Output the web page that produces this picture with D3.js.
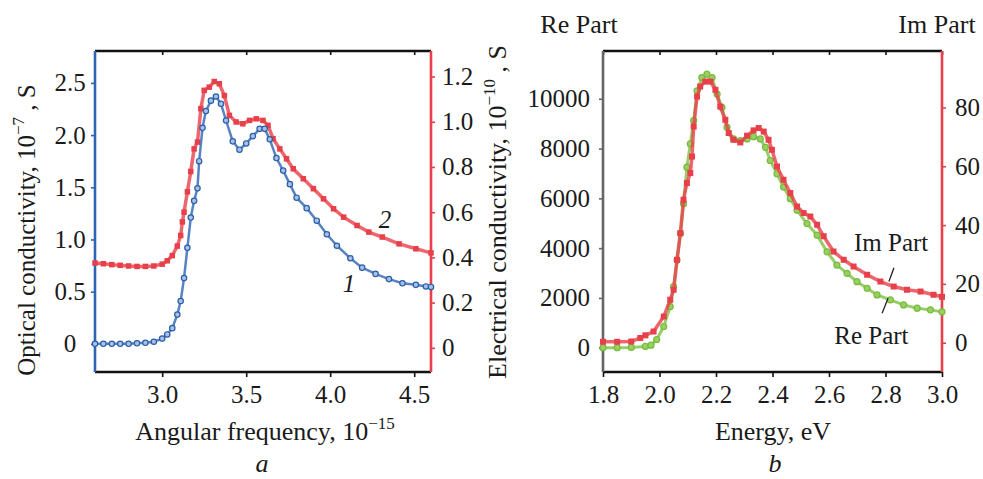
<!DOCTYPE html>
<html>
<head>
<meta charset="utf-8">
<script src="https://cdn.jsdelivr.net/npm/d3@7"></script>
<style>
  body { margin:0; background:#fff; }
  svg text { font-family:"Liberation Serif","Times New Roman",serif; fill:#1a1a1a; }
</style>
</head>
<body>
<div id="canvas"></div>
<script>
// panel a: optical conductivity vs angular frequency
var freq1 = [2.60,2.65,2.70,2.75,2.80,2.85,2.90,2.95,3.00,3.03,3.06,3.09,3.11,3.13,3.15,3.17,3.19,3.21,3.22,3.24,
  3.26,3.29,3.32,3.35,3.38,3.42,3.46,3.50,3.54,3.58,3.61,3.64,3.68,3.72,3.76,3.80,3.86,3.92,3.98,4.04,
  4.12,4.19,4.27,4.35,4.43,4.51,4.57,4.60];
var cond1 = [0,0,0,0,0,0.005,0.01,0.02,0.05,0.09,0.15,0.28,0.41,0.63,0.92,1.21,1.37,1.49,1.75,2.07,
  2.23,2.33,2.37,2.30,2.14,1.94,1.86,1.92,1.99,2.06,2.06,1.96,1.78,1.66,1.53,1.40,1.30,1.18,1.05,0.94,
  0.82,0.73,0.67,0.62,0.58,0.565,0.55,0.545];
var freq2 = [2.60,2.65,2.70,2.75,2.80,2.85,2.90,2.95,3.00,3.03,3.06,3.09,3.11,3.12,3.13,3.15,3.17,3.19,3.21,3.23,
  3.25,3.28,3.31,3.34,3.37,3.40,3.44,3.48,3.52,3.56,3.60,3.63,3.66,3.70,3.74,3.78,3.84,3.90,3.96,4.02,
  4.08,4.16,4.23,4.31,4.41,4.51,4.60];
var cond2 = [0.375,0.372,0.368,0.365,0.362,0.36,0.36,0.362,0.37,0.385,0.408,0.45,0.497,0.557,0.60,0.69,0.78,0.88,0.91,1.058,
  1.139,1.153,1.178,1.168,1.116,1.028,0.999,0.991,1.006,1.013,1.006,0.984,0.925,0.88,0.836,0.792,0.748,0.704,0.659,0.615,
  0.578,0.541,0.512,0.49,0.46,0.438,0.42];
var freqTicks = [3.0,3.5,4.0,4.5];
var optTicks = [0,0.5,1.0,1.5,2.0,2.5];
var opt2Ticks = [0,0.2,0.4,0.6,0.8,1.0,1.2];

// panel b: electrical conductivity vs energy
var energyRe = [1.80,1.85,1.90,1.95,1.97,1.99,2.015,2.038,2.05,2.062,2.074,2.085,2.097,2.109,2.121,2.133,2.15,2.168,2.186,2.204,
  2.221,2.239,2.262,2.286,2.31,2.333,2.357,2.375,2.392,2.416,2.439,2.463,2.487,2.522,2.558,2.593,2.628,2.664,2.699,2.735,
  2.77,2.817,2.864,2.912,2.959,3.0];
var rePart = [0,0,10,50,100,330,852,1652,2452,3520,4588,5788,7252,8188,9120,10320,10852,10988,10852,10188,
  9652,8852,8388,8320,8388,8480,8388,8052,7520,6988,6452,5988,5520,4988,4520,3852,3320,2988,2652,2388,
  2120,1920,1720,1588,1520,1440];
var energyIm = [1.80,1.85,1.90,1.932,1.95,1.979,2.015,2.038,2.05,2.062,2.074,2.085,2.097,2.109,2.115,2.121,2.133,2.144,2.162,2.18,
  2.198,2.215,2.233,2.245,2.262,2.286,2.31,2.333,2.351,2.369,2.386,2.398,2.416,2.439,2.463,2.487,2.51,2.534,2.558,2.581,
  2.616,2.652,2.687,2.735,2.782,2.829,2.876,2.924,2.97,3.0];
var imPart = [0.3,0.3,0.4,1.6,2.5,3.8,8.9,14.6,18.0,28.2,37.3,48.6,54.3,57.7,63.3,73.5,83.7,87.1,88.8,88.8,
  86.0,80.3,75.8,71.3,69.0,68.1,70.4,72.2,73.0,71.8,69.0,65.6,59.9,55.4,50.9,46.3,44.1,42.9,40.1,36.2,
  31.0,28.2,25.9,23.1,20.8,19.1,18.0,17.4,16.3,15.6];
var energyTicks = [1.8,2.0,2.2,2.4,2.6,2.8,3.0];
var reTicks = [0,2000,4000,6000,8000,10000];
var imTicks = [0,20,40,60,80];

var blue = '#2e64b4', red = '#e8404a', green = '#7cc242';

var svg = d3.select('#canvas').append('svg')
  .attr('width', 983).attr('height', 479);

var yTop = 51, yBot = 372;

// scales
var xA = d3.scaleLinear().domain([2.6, 4.6]).range([95, 431]);
var yA1 = d3.scaleLinear().domain([-0.27, 2.806]).range([yBot, yTop]);
var yA2 = d3.scaleLinear().domain([-0.107, 1.313]).range([yBot, yTop]);
var xB = d3.scaleLinear().domain([1.8, 3.0]).range([603, 942]);
var yB1 = d3.scaleLinear().domain([-976, 11920]).range([yBot, yTop]);
var yB2 = d3.scaleLinear().domain([-9.97, 99.2]).range([yBot, yTop]);

function fmt1(d){ return d === 0 ? '0' : d.toFixed(1); }

function styleAxis(g, color){
  g.select('.domain').remove();
  g.selectAll('line').attr('stroke', color).attr('stroke-width', 1.6);
  g.selectAll('text').attr('font-size', 25).attr('fill', '#1a1a1a')
    .style('font-family', '"Liberation Serif","Times New Roman",serif');
}

function minor(lo, hi, step){
  var out = [];
  for (var v = lo; v <= hi + 1e-9; v += step) out.push(+v.toFixed(4));
  return out;
}

function drawFrame(x, yL, yR, o){
  // bottom axis
  var gb = svg.append('g').attr('transform', 'translate(0,' + yBot + ')');
  gb.call(d3.axisBottom(x).tickValues(minor(o.xmin, o.xmax, o.xminor)).tickSize(3).tickFormat(''));
  gb.call(d3.axisBottom(x).tickValues(o.xticks).tickSize(5).tickPadding(8).tickFormat(d3.format('.1f')));
  styleAxis(gb, '#111');
  // top axis
  var gt = svg.append('g').attr('transform', 'translate(0,' + yTop + ')');
  gt.call(d3.axisTop(x).tickValues(o.xticks).tickSize(-4).tickFormat(''));
  styleAxis(gt, '#111');
  // left axis
  var gl = svg.append('g').attr('transform', 'translate(' + x.range()[0] + ',0)');
  gl.call(d3.axisLeft(yL).tickValues(o.lminor).tickSize(2).tickFormat(''));
  gl.call(d3.axisLeft(yL).tickValues(o.lticks).tickSize(4).tickPadding(o.lpad).tickFormat(o.lfmt));
  styleAxis(gl, o.lcolor);
  if (o.lcenter) gl.selectAll('text').attr('text-anchor', 'middle').attr('x', o.lcenter);
  // right axis
  var gr = svg.append('g').attr('transform', 'translate(' + x.range()[1] + ',0)');
  gr.call(d3.axisRight(yR).tickValues(o.rminor).tickSize(2).tickFormat(''));
  gr.call(d3.axisRight(yR).tickValues(o.rticks).tickSize(4).tickPadding(o.rpad).tickFormat(o.rfmt));
  styleAxis(gr, o.rcolor);

  // frame lines
  var x0 = x.range()[0], x1 = x.range()[1];
  svg.append('line').attr('x1', x0).attr('x2', x1).attr('y1', yTop).attr('y2', yTop)
    .attr('stroke', '#111').attr('stroke-width', 2.6);
  svg.append('line').attr('x1', x0).attr('x2', x1).attr('y1', yBot).attr('y2', yBot)
    .attr('stroke', '#111').attr('stroke-width', 2.6);
  svg.append('line').attr('x1', x0).attr('x2', x0).attr('y1', yTop).attr('y2', yBot)
    .attr('stroke', o.lcolor).attr('stroke-width', 2.6);
  svg.append('line').attr('x1', x1).attr('x2', x1).attr('y1', yTop).attr('y2', yBot)
    .attr('stroke', o.rcolor).attr('stroke-width', 2.6);
}

drawFrame(xA, yA1, yA2, {
  xmin: 2.75, xmax: 4.5, xminor: 0.25, xticks: freqTicks,
  lticks: optTicks, lminor: minor(0, 2.75, 0.25), lfmt: fmt1, lpad: 6, lcolor: blue, lcenter: -25,
  rticks: opt2Ticks, rminor: minor(0, 1.3, 0.1), rfmt: fmt1, rpad: 7, rcolor: red
});
drawFrame(xB, yB1, yB2, {
  xmin: 1.8, xmax: 3.0, xminor: 0.1, xticks: energyTicks,
  lticks: reTicks, lminor: minor(0, 11000, 1000), lfmt: d3.format('d'), lpad: 9, lcolor: '#666',
  rticks: imTicks, rminor: minor(0, 90, 10), rfmt: d3.format('d'), rpad: 9, rcolor: red
});

// series drawing helpers
function series(xs, ys, x, y, color, width){
  var pts = xs.map(function(d, i){ return [x(d), y(ys[i])]; });
  svg.append('path').attr('d', d3.line()(pts))
    .attr('fill', 'none').attr('stroke', color).attr('stroke-width', width).attr('opacity', 0.8);
  return pts;
}
function squares(pts, color, s){
  svg.append('g').selectAll('rect').data(pts).enter().append('rect')
    .attr('x', function(d){ return d[0] - s/2; })
    .attr('y', function(d){ return d[1] - s/2; })
    .attr('width', s).attr('height', s).attr('fill', color);
}
function circles(pts, fill, stroke, r){
  svg.append('g').selectAll('circle').data(pts).enter().append('circle')
    .attr('cx', function(d){ return d[0]; })
    .attr('cy', function(d){ return d[1]; })
    .attr('r', r).attr('fill', fill).attr('stroke', stroke).attr('stroke-width', 1.2);
}

// panel a curves
var p2 = series(freq2, cond2, xA, yA2, red, 3.5);
squares(p2, red, 5.5);
var p1 = series(freq1, cond1, xA, yA1, blue, 2.5);
circles(p1, '#a8c0e6', '#2a5ea8', 2.7);

// panel b curves
var pre = series(energyRe, rePart, xB, yB1, green, 3);
circles(pre, '#9ad062', '#76bb3c', 3);
var pim = series(energyIm, imPart, xB, yB2, red, 3.5);
squares(pim, red, 6);

// curve labels
function label(t, x, y, size, italic, anchor){
  return svg.append('text').attr('x', x).attr('y', y).attr('font-size', size)
    .attr('font-style', italic ? 'italic' : 'normal')
    .attr('text-anchor', anchor || 'middle').text(t);
}
label('2', xA(4.326), yA2(0.53), 25, true);
label('1', xA(4.112), yA1(0.5), 25, true);
label('Im Part', xB(2.82), yB2(31.1), 25, false);
label('Re Part', xB(2.75), yB1(150), 25, false);
svg.append('line').attr('x1', xB(2.83)).attr('y1', yB2(25.5)).attr('x2', xB(2.812)).attr('y2', yB2(20.8))
  .attr('stroke', '#222').attr('stroke-width', 1.3);
svg.append('line').attr('x1', xB(2.809)).attr('y1', yB1(1988)).attr('x2', xB(2.788)).attr('y2', yB1(1388))
  .attr('stroke', '#222').attr('stroke-width', 1.3);

// axis titles
function titleWithSup(x, y, size, pre, sup, post, rotate){
  var t = svg.append('text').attr('font-size', size).attr('text-anchor', 'middle')
    .attr('transform', 'translate(' + x + ',' + y + ')' + (rotate ? ' rotate(-90)' : ''));
  t.append('tspan').text(pre);
  t.append('tspan').attr('font-size', 17).attr('dy', -11).text(sup);
  t.append('tspan').attr('dy', 11).text(post);
}
titleWithSup(265, 440, 26, 'Angular frequency, 10', '\u221215', '', false);
titleWithSup(35, 230, 25, 'Optical conductivity, 10', '\u22127', ' , S', true);
titleWithSup(506, 212, 26, 'Electrical conductivity, 10', '\u221210', ' , S', true);
label('Energy, eV', 773, 440, 26, false);
label('a', 262, 472, 26, true);
label('b', 775, 472, 26, true);
label('Re Part', 579, 33, 26, false);
label('Im Part', 937, 33, 26, false);
</script>
</body>
</html>
